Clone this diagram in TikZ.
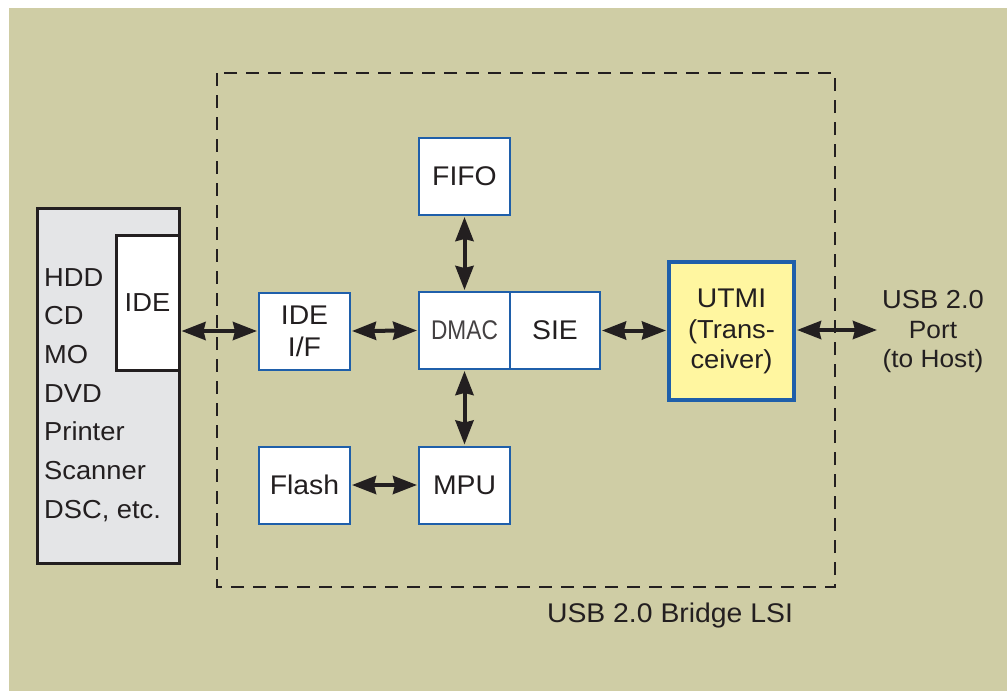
\documentclass[tikz,border=0pt]{standalone}
\usepackage{fontspec}
\setmainfont[FakeStretch=1.05]{Liberation Sans}
\newfontfamily\condfont[FakeStretch=0.84]{Liberation Sans}
\usetikzlibrary{arrows.meta}
\definecolor{bg}{HTML}{CFCDA5}
\definecolor{blu}{HTML}{1F5FAA}
\definecolor{ink}{HTML}{231F20}
\definecolor{devgray}{HTML}{E4E5E7}
\definecolor{yel}{HTML}{FFF6A0}
\begin{document}
\begin{tikzpicture}[x=1pt,y=-1pt,
  txt/.style={text=ink, inner sep=0pt, align=center},
  blk/.style={draw=blu, line width=2pt, fill=white, minimum width=91pt, minimum height=77pt,
    inner sep=0pt, text=ink, align=center, font=\fontsize{27}{32}\selectfont},
  tip/.tip={Stealth[length=24pt 0 0,width=18pt 0 0,inset=2pt 0 0]},
  conn/.style={tip-tip, line width=4pt, draw=ink, shorten <=1pt, shorten >=1pt}]
\useasboundingbox (0,0) rectangle (1007,691);
\fill[bg] (9,8) rectangle (1007,691);
% bridge LSI boundary
\draw[ink, line width=2pt, dash pattern=on 13pt off 9pt] (217,73) rectangle (835,587);
\node[txt, font=\fontsize{27}{30}\selectfont] (lsi) at (670,616) {USB 2.0 Bridge LSI};
% device box
\node[draw=ink, line width=3pt, fill=devgray, minimum width=142pt, minimum height=355pt, inner sep=0pt] (dev) at (108,385.5) {};
\node[draw=ink, line width=3pt, fill=white, minimum width=63pt, minimum height=135pt, inner sep=0pt,
  text=ink, font=\fontsize{26}{30}\selectfont] (ide) at (147.5,302.5) {IDE};
\node[txt, anchor=west, align=left, font=\fontsize{26}{38.7}\selectfont] (list) at (44,395)
  {HDD\\CD\\MO\\DVD\\Printer\\Scanner\\DSC, etc.};
% blocks
\node[blk] (ideif) at (304.5,331) {IDE\\I/F};
\node[blk, font=\condfont\fontsize{27}{32}\selectfont, text=ink!85] (dmac) at (464.5,330.5) {DMAC};
\node[blk, minimum width=90pt] (sie) at (555,330.5) {SIE};
\node[blk] (fifo) at (464.5,176.5) {FIFO};
\node[blk] (mpu) at (464.5,485) {MPU};
\node[blk] (flash) at (304.5,485) {Flash};
\node[draw=blu, line width=4pt, fill=yel, minimum width=125pt, minimum height=138pt, inner sep=0pt,
  text=ink, align=center, font=\fontsize{26}{30}\selectfont] (utmi) at (731.5,331)
  {{\fontsize{27}{30}\selectfont UTMI}\\[1pt](Trans-\\ceiver)};
\node[txt, font=\fontsize{25}{29.5}\selectfont] (port) at (933,332)
  {{\fontsize{26}{30}\selectfont USB 2.0}\\Port\\(to Host)};
\coordinate (portend) at (878,330);
% connectors
\draw[conn] (dev.east |- ideif.west) -- (ideif.west);
\draw[conn] (ideif.east) -- (dmac.west);
\draw[conn] (sie.east) -- (utmi.west |- sie.east);
\draw[conn] (utmi.east |- portend) -- (portend);
\draw[conn] (fifo.south) -- (dmac.north);
\draw[conn] (dmac.south) -- (mpu.north);
\draw[conn] (flash.east) -- (mpu.west);
\end{tikzpicture}
\end{document}
